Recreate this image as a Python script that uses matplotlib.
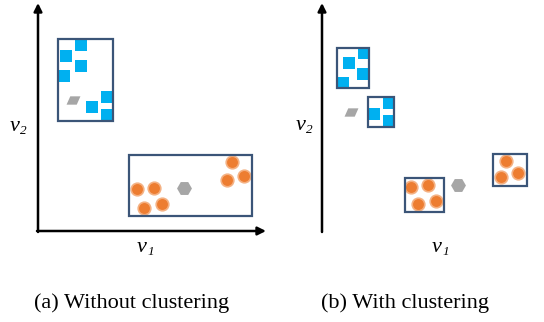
import matplotlib
matplotlib.use("Agg")
import matplotlib.pyplot as plt
from matplotlib.patches import Rectangle

# Colores
azul = "#00B0F0"
naranja = "#ED7D31"
naranja_borde = "#F4B183"
gris = "#A6A6A6"
borde_caja = "#3B5578"

# ---- Panel (a): sin clustering (coordenadas en pixeles de la imagen)
a_cuadros_x = [81, 66, 81, 64, 107, 92, 107]
a_cuadros_y = [45, 56, 66, 76, 97, 107, 115]
a_circulos_x = [137, 154, 144, 162, 232, 227, 244]
a_circulos_y = [189, 188, 208, 204, 162, 180, 176]
a_paralelo = (73, 100)
a_hexagono = (184, 188)
a_cajas = [(58, 39, 113, 121), (129, 155, 252, 216)]

# ---- Panel (b): con clustering
b_cuadros_x = [364, 349, 363, 343, 389, 374, 389]
b_cuadros_y = [53, 63, 74, 83, 103, 114, 121]
b_circulos_x = [411, 428, 418, 436, 506, 501, 518]
b_circulos_y = [187, 185, 204, 201, 161, 177, 173]
b_paralelo = (351, 112)
b_hexagono = (458, 185)
b_cajas = [(337, 48, 369, 88), (368, 97, 394, 127),
           (405, 178, 444, 212), (493, 154, 527, 186)]

leyendas = ["(a) Without clustering", "(b) With clustering"]

fig = plt.figure(figsize=(5.44, 3.22), dpi=100)
ax = fig.add_axes([0, 0, 1, 1])
ax.set_xlim(0, 544)
ax.set_ylim(322, 0)
ax.axis("off")

marcador_paralelo = [(-0.75, -0.45), (0.35, -0.45), (0.75, 0.45), (-0.35, 0.45)]


def dibujar_panel(x0, cuadros_x, cuadros_y, circ_x, circ_y, paralelo, hexagono, cajas, x_fin):
    # ejes con flechas
    ax.annotate("", xy=(x0, 3), xytext=(x0, 232),
                arrowprops=dict(arrowstyle="-|>", color="black", lw=1.8,
                                mutation_scale=12, shrinkA=0, shrinkB=0))
    ax.annotate("", xy=(x_fin, 231), xytext=(x0 - 1, 231),
                arrowprops=dict(arrowstyle="-|>", color="black", lw=1.8,
                                mutation_scale=12, shrinkA=0, shrinkB=0))
    for (x1, y1, x2, y2) in cajas:
        ax.add_patch(Rectangle((x1, y1), x2 - x1, y2 - y1, fill=False,
                               edgecolor=borde_caja, lw=1.6, zorder=3))
    ax.scatter(cuadros_x, cuadros_y, marker="s", s=64, color=azul,
               linewidths=0, zorder=2)
    ax.scatter(circ_x, circ_y, marker="o", s=82, color=naranja,
               edgecolors=naranja_borde, linewidths=1.2, zorder=2)
    ax.scatter([paralelo[0]], [paralelo[1]], marker=marcador_paralelo, s=100,
               color=gris, linewidths=0, zorder=2)
    ax.scatter([hexagono[0]], [hexagono[1]], marker="H", s=115,
               color=gris, linewidths=0, zorder=2)


def etiqueta(x, y, sub):
    # "v" en cursiva con subindice en cursiva
    ax.text(x, y, "v", fontsize=16, family="Liberation Serif", style="italic",
            ha="right", va="baseline")
    ax.text(x + 0.5, y + 2.5, sub, fontsize=9.5, family="Liberation Serif",
            style="italic", ha="left", va="baseline")


dibujar_panel(38, a_cuadros_x, a_cuadros_y, a_circulos_x, a_circulos_y,
              a_paralelo, a_hexagono, a_cajas, 266)
dibujar_panel(322, b_cuadros_x, b_cuadros_y, b_circulos_x, b_circulos_y,
              b_paralelo, b_hexagono, b_cajas, 546)

etiqueta(20, 131, "2")
etiqueta(306, 130, "2")
etiqueta(147, 252, "1")
etiqueta(442, 252, "1")

ax.text(132, 303, leyendas[0], fontsize=16, family="Liberation Serif",
        ha="center", va="center")
ax.text(405, 303, leyendas[1], fontsize=16, family="Liberation Serif",
        ha="center", va="center")

fig.savefig("out.png", dpi=100)
